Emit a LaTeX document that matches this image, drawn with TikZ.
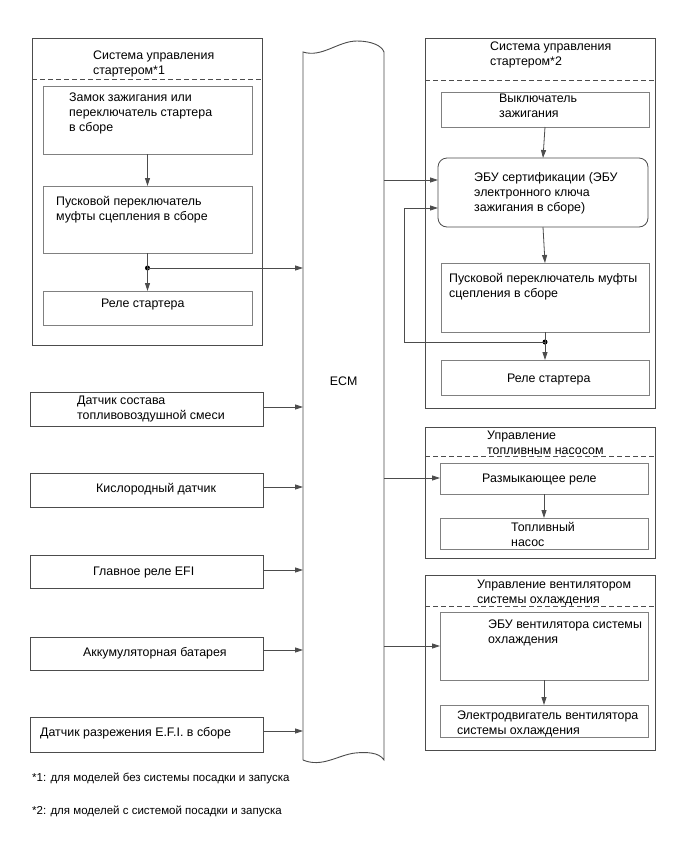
\documentclass[tikz,border=0pt]{standalone}
\usepackage{fontspec}
\setmainfont{Liberation Sans}
\usetikzlibrary{arrows.meta,calc}
\definecolor{lineout}{gray}{0.30}
\definecolor{linein}{gray}{0.50}
\newcommand{\boxfont}{\fontsize{12.4}{15}\selectfont}
\newcommand{\notefont}{\fontsize{11.5}{14}\selectfont}
\tikzset{
  grpbox/.style={draw=lineout, line width=0.9pt, anchor=north west,
                 inner sep=0pt, outer sep=0pt},
  blkbox/.style={draw=linein, line width=0.8pt, anchor=north west,
                 inner sep=0pt, outer sep=0pt},
  keybox/.style={blkbox, draw=lineout, rounded corners=9pt},
  lbl/.style={anchor=north west, inner sep=0pt, align=left, font=\boxfont},
  sigarr/.style={-{Triangle[length=8pt,width=5pt]}, line width=0.8pt, lineout},
  sepline/.style={dash pattern=on 5pt off 3pt, line width=0.8pt, lineout},
  dotpt/.style={circle, fill=black, inner sep=0pt, minimum size=5pt}
}

\begin{document}
\begin{tikzpicture}[x=1pt, y=-1pt, font=\boxfont]
  \useasboundingbox[fill=white] (0,0) rectangle (688,852);

  % starter control *1
  \node[grpbox, minimum width=230, minimum height=307,
        label={[lbl, xshift=61, yshift=-12.6]north west:{Система управления\\стартером*1}}]
        (grp1) at (32,38) {};
  \draw[sepline] (grp1.west |- 0,79) -- (grp1.east |- 0,79);
  \node[blkbox, minimum width=209, minimum height=68,
        label={[lbl, xshift=26, yshift=-6.6]north west:{Замок зажигания или\\переключатель стартера\\в сборе}}]
        (zamok) at (43,86) {};
  \node[blkbox, minimum width=209, minimum height=67,
        label={[lbl, xshift=13, yshift=-9.6]north west:{Пусковой переключатель\\муфты сцепления в сборе}}]
        (mufta1) at (43,186) {};
  \node[blkbox, minimum width=209, minimum height=34,
        label={[lbl, xshift=58, yshift=-7.6]north west:{Реле стартера}}]
        (rele1) at (43,291) {};

  % sensors
  \node[grpbox, minimum width=233, minimum height=34,
        label={[lbl, xshift=47, yshift=-3.6]north west:{Датчик состава\\топливовоздушной смеси}}]
        (s1) at (30,392) {};
  \node[grpbox, minimum width=233, minimum height=34,
        label={[lbl, xshift=66, yshift=-9.6]north west:{Кислородный датчик}}]
        (s2) at (30,473) {};
  \node[grpbox, minimum width=233, minimum height=33,
        label={[lbl, xshift=63, yshift=-11.6]north west:{Главное реле EFI}}]
        (s3) at (30,555) {};
  \node[grpbox, minimum width=233, minimum height=33,
        label={[lbl, xshift=53, yshift=-10.6]north west:{Аккумуляторная батарея}}]
        (s4) at (30,637) {};
  \node[grpbox, minimum width=233, minimum height=35,
        label={[lbl, xshift=10, yshift=-10.6]north west:{Датчик разрежения E.F.I. в сборе}}]
        (s5) at (30,717) {};

  % ECM
  \node[anchor=north west, inner sep=0pt, minimum width=81, minimum height=724,
        label={[yshift=22]center:ECM}] (ecm) at (303,41) {};
  \draw[lineout, line width=0.9pt]
    (303,760) -- (303,52) .. controls (322,58) and (338,41) .. (357,41)
    .. controls (372,41) and (382,46) .. (384,52) -- (384,760)
    .. controls (379,752) and (366,752) .. (355,753)
    .. controls (338,755) and (322,768) .. (303,760);

  % starter control *2
  \node[grpbox, minimum width=230, minimum height=370,
        label={[lbl, xshift=65, yshift=-3.6]north west:{Система управления\\стартером*2}}]
        (grp2) at (425,38) {};
  \draw[sepline] (grp2.west |- 0,80) -- (grp2.east |- 0,80);
  \node[blkbox, minimum width=208, minimum height=35,
        label={[lbl, xshift=58, yshift=-1.6]north west:{Выключатель\\зажигания}}]
        (vykl) at (441,92) {};
  \node[keybox, minimum width=210, minimum height=69,
        label={[lbl, xshift=36, yshift=-14.6]north west:{ЭБУ сертификации (ЭБУ\\электронного ключа\\зажигания в сборе)}}]
        (eblok) at (438,158) {};
  \node[blkbox, minimum width=208, minimum height=69,
        label={[lbl, xshift=8, yshift=-9.6]north west:{Пусковой переключатель муфты\\сцепления в сборе}}]
        (mufta2) at (441,263) {};
  \node[blkbox, minimum width=208, minimum height=35,
        label={[lbl, xshift=66, yshift=-13.6]north west:{Реле стартера}}]
        (rele2) at (441,360) {};

  % fuel pump control
  \node[grpbox, minimum width=230, minimum height=131,
        label={[lbl, xshift=62, yshift=-3.6]north west:{Управление\\топливным насосом}}]
        (grp3) at (425,427) {};
  \draw[sepline] (grp3.west |- 0,456) -- (grp3.east |- 0,456);
  \node[blkbox, minimum width=208, minimum height=31,
        label={[lbl, xshift=42, yshift=-10.6]north west:{Размыкающее реле}}]
        (razm) at (440,463) {};
  \node[blkbox, minimum width=208, minimum height=31,
        label={[lbl, xshift=71, yshift=-3.6]north west:{Топливный\\насос}}]
        (nasos) at (440,518) {};

  % cooling fan control
  \node[grpbox, minimum width=230, minimum height=175,
        label={[lbl, xshift=52, yshift=-4.6]north west:{Управление вентилятором\\системы охлаждения}}]
        (grp4) at (425,575) {};
  \draw[sepline] (grp4.west |- 0,606) -- (grp4.east |- 0,606);
  \node[blkbox, minimum width=208, minimum height=68,
        label={[lbl, xshift=48, yshift=-7.6]north west:{ЭБУ вентилятора системы\\охлаждения}}]
        (ebuvent) at (440,612) {};
  \node[blkbox, minimum width=208, minimum height=32,
        label={[lbl, xshift=17, yshift=-5.6]north west:{Электродвигатель вентилятора\\системы охлаждения}}]
        (motor) at (440,705) {};

  % notes
  \node[anchor=west, inner sep=0pt, font=\notefont] (note1) at (32,778)
    {*1: для моделей без системы посадки и запуска};
  \node[anchor=west, inner sep=0pt, font=\notefont] (note2) at (32,811)
    {*2: для моделей с системой посадки и запуска};

  % connectors, left
  \draw[sigarr] (zamok.south) -- (mufta1.north);
  \node[dotpt] (j1) at (mufta1.south |- 0,268) {};
  \draw[lineout, line width=0.8pt] (mufta1.south) -- (j1.center);
  \draw[sigarr] (j1.center) -- (rele1.north);
  \draw[sigarr] (j1.center) -- (j1 -| ecm.west);
  \foreach \s/\yy in {s1/407, s2/487, s3/570, s4/650, s5/731}
    \draw[sigarr] (\s.east |- 0,\yy) -- (ecm.west |- 0,\yy);

  % connectors, right
  \draw[sigarr] (ecm.east |- 0,180) -- (eblok.west |- 0,180);
  \draw[sigarr] (vykl.south) -- (eblok.north);
  \draw[sigarr] (eblok.south) -- (mufta2.north);
  \node[dotpt] (j2) at (mufta2.south |- 0,342) {};
  \draw[lineout, line width=0.8pt] (mufta2.south) -- (j2.center);
  \draw[sigarr] (j2.center) -- (rele2.north);
  \coordinate (bendx) at (404,0);
  \draw[sigarr] (j2.center) -- (j2 -| bendx) -- (bendx |- 0,208)
    -- (eblok.west |- 0,208);
  \draw[sigarr] (ecm.east |- 0,478) -- (razm.west |- 0,478);
  \draw[sigarr] (razm.south) -- (nasos.north);
  \draw[sigarr] (ecm.east |- 0,646) -- (ebuvent.west |- 0,646);
  \draw[sigarr] (ebuvent.south) -- (motor.north);
\end{tikzpicture}
\end{document}
